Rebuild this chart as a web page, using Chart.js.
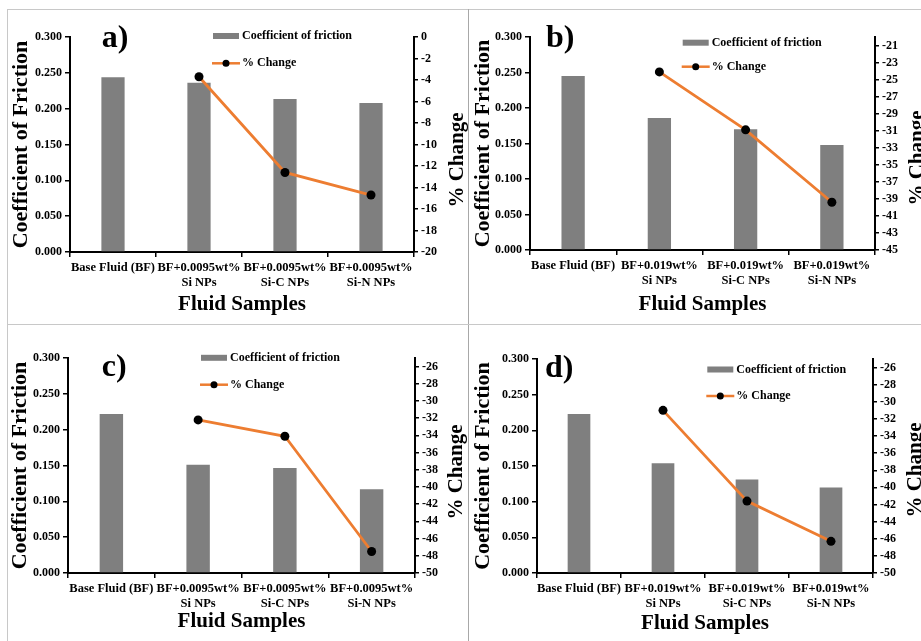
<!DOCTYPE html>
<html><head><meta charset="utf-8">
<script src="https://cdn.jsdelivr.net/npm/chart.js@4.4.1/dist/chart.umd.min.js"></script>
<style>
html,body{margin:0;padding:0;background:#fff;width:921px;height:641px;overflow:hidden;position:relative}
.ln{position:absolute;background:#c8c8c8}
.pn{position:absolute;overflow:hidden}
canvas{display:block}
</style></head><body>
<div class="ln" style="left:7px;top:9px;width:914px;height:1px"></div>
<div class="ln" style="left:7px;top:9px;width:1px;height:632px"></div>
<div class="ln" style="left:468px;top:9px;width:1px;height:632px;background:#a8a8a8"></div>
<div class="ln" style="left:7px;top:324px;width:914px;height:1px"></div>
<div class="pn" style="left:8px;top:10px;width:460px;height:314px"><canvas id="ca" width="460" height="314"></canvas></div>
<div class="pn" style="left:470px;top:10px;width:470px;height:314px"><canvas id="cb" width="470" height="314"></canvas></div>
<div class="pn" style="left:8px;top:325px;width:460px;height:316px"><canvas id="cc" width="460" height="316"></canvas></div>
<div class="pn" style="left:470px;top:325px;width:470px;height:316px"><canvas id="cd" width="470" height="316"></canvas></div>
<script>
// ---- data ----
const categories95 = ['Base Fluid (BF)', ['BF+0.0095wt%', 'Si NPs'], ['BF+0.0095wt%', 'Si-C NPs'], ['BF+0.0095wt%', 'Si-N NPs']];
const categories19 = ['Base Fluid (BF)', ['BF+0.019wt%', 'Si NPs'], ['BF+0.019wt%', 'Si-C NPs'], ['BF+0.019wt%', 'Si-N NPs']];

const cofA = [0.244, 0.236, 0.2135, 0.208];
const changeA = [null, -3.7, -12.6, -14.7];
const cofB = [0.245, 0.186, 0.170, 0.148];
const changeB = [null, -24.1, -30.9, -39.4];
const cofC = [0.222, 0.151, 0.1465, 0.117];
const changeC = [null, -32.2, -34.1, -47.5];
const cofD = [0.223, 0.154, 0.131, 0.120];
const changeD = [null, -31.0, -41.6, -46.3];

const cofTicks = [0, 0.05, 0.1, 0.15, 0.2, 0.25, 0.3];
const changeTicksA = [0, -2, -4, -6, -8, -10, -12, -14, -16, -18, -20];
const changeTicksB = [-21, -23, -25, -27, -29, -31, -33, -35, -37, -39, -41, -43, -45];
const changeTicksCD = [-26, -28, -30, -32, -34, -36, -38, -40, -42, -44, -46, -48, -50];
const rangeA = [-20, 0];
const rangeB = [-45, -20];
const rangeCD = [-50, -25];

const labelCof = 'Coefficient of friction';
const labelChange = '% Change';
const xTitle = 'Fluid Samples';
const yTitle = 'Coefficient of Friction';
const y1Title = '% Change';

// ---- style ----
const FF = '"Liberation Serif","Times New Roman",serif';
const GRAY = '#7f7f7f';
const ORANGE = '#ED7D31';

const deco = {
  id: 'deco',
  afterDraw(chart, args, o) {
    const ctx = chart.ctx;
    ctx.save();
    ctx.fillStyle = '#000';
    ctx.font = 'bold 32px ' + FF;
    ctx.textAlign = 'left'; ctx.textBaseline = 'alphabetic';
    ctx.fillText(o.panel, o.panelX, o.panelY);
    const dsBar = chart.data.datasets[1], dsLine = chart.data.datasets[0];
    ctx.fillStyle = dsBar.backgroundColor;
    ctx.fillRect(o.lgX, o.lgY1 - 3, 26, 6);
    ctx.strokeStyle = dsLine.borderColor; ctx.lineWidth = 2.5;
    ctx.beginPath(); ctx.moveTo(o.lgX - 1, o.lgY2); ctx.lineTo(o.lgX + 27, o.lgY2); ctx.stroke();
    ctx.fillStyle = '#000';
    ctx.beginPath(); ctx.arc(o.lgX + 13, o.lgY2, 3.5, 0, Math.PI * 2); ctx.fill();
    ctx.font = 'bold 12px ' + FF; ctx.textBaseline = 'middle';
    ctx.fillText(dsBar.label, o.lgX + 29, o.lgY1);
    ctx.fillText(dsLine.label, o.lgX + 29, o.lgY2);
    ctx.translate(o.rtX, o.rtY); ctx.rotate(-Math.PI / 2);
    ctx.font = 'bold 21px ' + FF; ctx.textAlign = 'center'; ctx.textBaseline = 'middle';
    ctx.fillText(y1Title, 0, 0);
    ctx.restore();
  }
};

function build(id, cats, cof, chg, rTicks, rRange, L) {
  const tickFont = { family: FF, size: 12, weight: 'bold' };
  const xFont = { family: FF, size: 12.5, weight: 'bold' };
  new Chart(document.getElementById(id), {
    data: {
      labels: cats,
      datasets: [
        { type: 'line', label: labelChange, data: chg, yAxisID: 'y1', borderColor: ORANGE, borderWidth: 2.8,
          pointRadius: 4.5, pointBackgroundColor: '#000', pointBorderColor: '#000', pointBorderWidth: 0, order: 0, tension: 0 },
        { type: 'bar', label: labelCof, data: cof, yAxisID: 'y', backgroundColor: GRAY,
          barPercentage: 0.27, categoryPercentage: 1, order: 1 }
      ]
    },
    options: {
      responsive: false, animation: false, devicePixelRatio: 1,
      layout: { padding: { top: L.top, left: 0, right: 0, bottom: 0 } },
      plugins: { legend: { display: false }, tooltip: { enabled: false }, deco: L.deco },
      scales: {
        x: {
          type: 'category', offset: true,
          grid: { offset: true, drawOnChartArea: false, drawTicks: true, tickLength: 5, color: '#000', lineWidth: 1.5 },
          border: { color: '#000', width: 2 },
          ticks: { color: '#000', font: xFont, padding: 3, autoSkip: false, maxRotation: 0, minRotation: 0 },
          title: { display: true, text: xTitle, color: '#000', font: { family: FF, size: 21, weight: 'bold', lineHeight: 1 }, padding: { top: 0, bottom: L.xtPad } },
          afterFit(s) { s.height = L.xH; }
        },
        y: {
          position: 'left', min: 0, max: 0.3,
          afterBuildTicks(s) { s.ticks = cofTicks.map(v => ({ value: v })); },
          grid: { drawOnChartArea: false, tickLength: 5, color: '#000', lineWidth: 1.5 },
          border: { color: '#000', width: 2 },
          ticks: { color: '#000', font: tickFont, padding: 3, callback: v => Number(v).toFixed(3) },
          title: { display: true, text: yTitle, color: '#000', font: { family: FF, size: 22, weight: 'bold', lineHeight: 1 }, padding: { top: L.ytPad, bottom: 0 } },
          afterFit(s) { s.width = L.yW; }
        },
        y1: {
          position: 'right', min: rRange[0], max: rRange[1],
          afterBuildTicks(s) { s.ticks = rTicks.map(v => ({ value: v })); },
          grid: { drawOnChartArea: false, tickLength: 4, color: '#000', lineWidth: 1.5 },
          border: { color: '#000', width: 2 },
          ticks: { color: '#000', font: tickFont, padding: 3, callback: v => String(v) },
          afterFit(s) { s.width = L.y1W; }
        }
      }
    },
    plugins: [deco]
  });
}

build('ca', categories95, cofA, changeA, changeTicksA, rangeA, {
  top: 27, yW: 62, y1W: 54, xH: 72, ytPad: 2, xtPad: 8.5,
  deco: { panel: 'a)', panelX: 93.7, panelY: 37, lgX: 205, lgY1: 26, lgY2: 53.3, rtX: 450, rtY: 150 }
});
build('cb', categories19, cofB, changeB, changeTicksB, rangeB, {
  top: 27, yW: 60, y1W: 65, xH: 74, ytPad: 2.5, xtPad: 8.5,
  deco: { panel: 'b)', panelX: 76, panelY: 37, lgX: 212.7, lgY1: 32.7, lgY2: 56.7, rtX: 448, rtY: 148 }
});
build('cc', categories95, cofC, changeC, changeTicksCD, rangeCD, {
  top: 33, yW: 60, y1W: 53, xH: 68, ytPad: 1.5, xtPad: 8.8,
  deco: { panel: 'c)', panelX: 93.7, panelY: 51, lgX: 193, lgY1: 32.8, lgY2: 59.7, rtX: 449, rtY: 147 }
});
build('cd', categories19, cofD, changeD, changeTicksCD, rangeCD, {
  top: 34, yW: 67, y1W: 67, xH: 68, ytPad: 2, xtPad: 6.5,
  deco: { panel: 'd)', panelX: 75, panelY: 52, lgX: 237.3, lgY1: 44.5, lgY2: 71, rtX: 446, rtY: 145 }
});
</script>
</body></html>
